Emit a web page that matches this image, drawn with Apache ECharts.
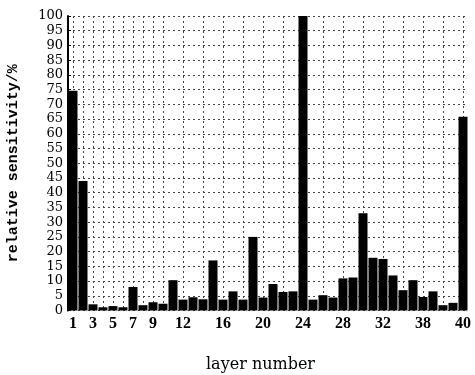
<!DOCTYPE html>
<html>
<head>
<meta charset="utf-8">
<style>
  html, body { margin: 0; padding: 0; background: #fff; }
  #chart { width: 475px; height: 375px; }
</style>
<script src="https://cdn.jsdelivr.net/npm/echarts@6/dist/echarts.min.js"></script>
</head>
<body>
<div id="chart"></div>
<script>
// Layer indices along the horizontal axis
const layers = [
  '1','2','3','4','5','6','7','8','9','10',
  '11','12','13','14','15','16','17','18','19','20',
  '21','22','23','24','25','26','27','28','29','30',
  '31','32','33','34','35','36','37','38','39','40'
];

// Relative sensitivity of each layer, in percent
const sensitivity = [
  74.6, 44.0, 2.1, 1.1, 1.5, 1.1, 8.0, 1.8, 2.8, 2.3,
  10.3, 3.7, 4.5, 3.8, 17.0, 3.7, 6.5, 3.7, 25.0, 4.4,
  9.0, 6.3, 6.5, 100, 3.7, 5.2, 4.4, 10.9, 11.2, 33.0,
  17.9, 17.5, 11.9, 6.9, 10.3, 4.6, 6.5, 1.8, 2.6, 65.8
];

// Layers that carry a tick label, and the text printed there
const tickLayers = ['1','3','5','7','9','12','16','20','24','28','32','36','40'];
const tickTexts  = ['1','3','5','7','9','12','16','20','24','28','32','38','40'];

// Layers that carry a vertical dotted guide line
const guideLayers = ['1','2','3','4','5','6','7','8','9','10',
  '12','14','16','18','20','22','24','26','28','30','32','34','36','38','40'];

// Vertical axis range
const yMin = 0, yMax = 100, yStep = 5;

const chart = echarts.init(document.getElementById('chart'));

const dotted = { color: '#444', width: 1, type: [2, 3] };

chart.setOption({
  animation: false,
  backgroundColor: '#fff',
  grid: { left: 68, top: 16, width: 400, height: 294.5, containLabel: false, outerBoundsMode: 'none' },
  xAxis: {
    type: 'category',
    data: layers,
    name: 'layer number',
    nameLocation: 'middle',
    nameGap: 46,
    nameTextStyle: { fontFamily: 'DejaVu Serif', fontSize: 16, color: '#000', padding: [0, 15, 0, 0] },
    axisLine: { show: false },
    axisTick: { show: false },
    axisLabel: {
      interval: (i, v) => tickLayers.includes(v),
      formatter: v => tickTexts[tickLayers.indexOf(v)],
      fontFamily: 'Liberation Serif',
      fontWeight: 'bold',
      fontSize: 16,
      color: '#000',
      margin: 5
    },
    splitLine: {
      show: true,
      alignWithLabel: true,
      interval: (i, v) => guideLayers.includes(v),
      lineStyle: dotted
    }
  },
  yAxis: {
    type: 'value',
    min: yMin,
    max: yMax,
    interval: yStep,
    name: 'relative sensitivity/%',
    nameLocation: 'middle',
    nameRotate: 90,
    nameGap: 47,
    nameTextStyle: { fontFamily: 'Liberation Mono', fontWeight: 'bold', fontSize: 15, color: '#000' },
    axisLine: { show: true, lineStyle: { color: '#000', width: 2 } },
    axisTick: { show: true, inside: true, length: 3, lineStyle: { color: '#000' } },
    axisLabel: {
      fontFamily: 'DejaVu Serif',
      fontSize: 13,
      color: '#000',
      margin: 5
    },
    splitLine: { show: true, lineStyle: dotted }
  },
  series: [{
    type: 'bar',
    data: sensitivity,
    barCategoryGap: '10%',
    itemStyle: { color: '#000' }
  }]
});
</script>
</body>
</html>
